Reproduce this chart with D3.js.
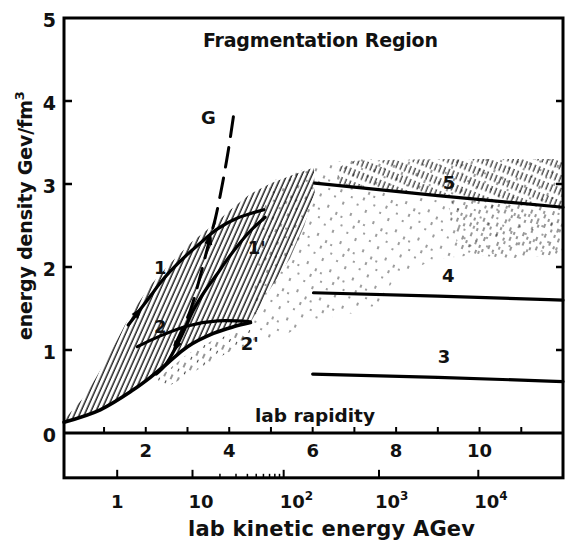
<!DOCTYPE html>
<html><head><meta charset="utf-8">
<script src="https://cdn.jsdelivr.net/npm/d3@7"></script>
<style>
body{margin:0;background:#fff}
svg{display:block}
text{font-family:"DejaVu Sans",sans-serif;font-weight:bold;fill:#111}
</style></head><body>
<svg id="c" width="567" height="542"></svg>
<script>
// ---------- data (lab rapidity, energy density GeV/fm^3) ----------
const rapidityTicks = [1,2,3,4,5,6,7,8,9,10,11];
const rapidityLabels = [2,4,6,8,10];
const energyTicks = [0,1,2,3,4,5];
const kineticMajor = [1,10,100,1000,10000];
const kineticBase = ["1","10","10","10","10"];
const kineticSup = ["","","2","3","4"];
const kineticMinor = [20,30,40,50,60,70,80,90];
const kineticRapidity = [1.315,3.12,5.305,7.59,9.97]; // rapidity position of each major tick

const curveLower = [[0.04,0.13],[0.91,0.28],[1.70,0.52],[2.11,0.67],[2.52,0.84],[3.00,1.04],[3.62,1.20],[4.10,1.28],[4.51,1.33]];
const curve2 = [[1.80,1.04],[2.35,1.17],[3.00,1.29],[3.72,1.35],[4.51,1.34]];
const curve1 = [[1.58,1.30],[1.87,1.49],[2.11,1.65],[2.35,1.81],[2.59,1.95],[2.95,2.13],[3.31,2.29],[3.72,2.46],[4.20,2.59],[4.83,2.69]];
const curve1p = [[2.25,0.71],[2.47,0.82],[2.73,1.04],[2.95,1.27],[3.14,1.48],[3.43,1.72],[3.69,1.90],[3.98,2.11],[4.46,2.41],[4.86,2.60]];
const curveG = [[4.10,3.81],[3.98,3.41],[3.84,3.01],[3.67,2.59],[3.53,2.33],[3.31,1.90],[3.07,1.48],[2.85,1.22],[2.70,1.06]];
const line5 = [[6.05,3.01],[9.0,2.86],[12,2.72]];
const line4 = [[6.02,1.69],[9.0,1.65],[12,1.60]];
const line3 = [[6.0,0.71],[9.0,0.67],[12,0.62]];

const regionDense = [[0.04,0.16],[0.55,0.45],[1.1,0.92],[1.5,1.3],[1.8,1.55],[2.15,1.8],[2.6,2.05],[3.1,2.3],[3.6,2.5],[4.03,2.69],[4.5,2.88],[5.0,3.01],[5.47,3.1],[6.03,3.2],[6.05,2.9],[5.8,2.5],[5.45,2.1],[5.0,1.75],[4.7,1.5],[4.51,1.33],[4.10,1.28],[3.62,1.20],[3.0,1.04],[2.52,0.84],[2.11,0.67],[1.70,0.52],[0.91,0.28],[0.04,0.13]];
const regionLight = [[4.45,1.1],[5.2,1.15],[6.0,1.35],[7.0,1.45],[7.6,1.55],[8.0,1.9],[9,2.1],[10,2.15],[12,2.2],[12,3.3],[10,3.3],[8,3.3],[7,3.3],[6.03,3.22],[5.47,3.12],[5.0,3.03],[4.83,2.69]];
const regionBand = [[6.6,3.0],[9,2.87],[12,2.72],[12,3.3],[9,3.3],[7.0,3.28],[6.6,3.2]];
const regionMid = [[9.2,2.85],[12,2.72],[12,2.15],[10.5,2.1],[9.5,2.2]];
const regionBelow = [[2.2,0.62],[3.0,0.95],[3.62,1.12],[4.1,1.2],[4.5,1.25],[4.6,1.1],[4.0,0.98],[3.2,0.75],[2.5,0.55]];

const arrows = [
  {at:[1.87,1.49], from:[1.58,1.30]},
  {at:[3.55,2.38], from:[3.31,1.90]},
  {at:[2.68,1.00], from:[2.95,1.27]}
];
const curveLabels = [
  {t:"1", p:[2.35,1.99]}, {t:"1'", p:[4.66,2.24]},
  {t:"2", p:[2.35,1.28]}, {t:"2'", p:[4.49,1.08]},
  {t:"G", p:[3.50,3.80]},
  {t:"5", p:[9.27,3.02]}, {t:"4", p:[9.25,1.90]}, {t:"3", p:[9.15,0.92]}
];

// ---------- scales ----------
const xMin = 0.04, xMax = 12, yBottom = -0.54;
const x = d3.scaleLinear().domain([xMin, xMax]).range([64, 563]);
const y = d3.scaleLinear().domain([0, 5]).range([433, 18]);
const kin = d3.scaleLog().domain(kineticMajor).range(kineticRapidity);

const svg = d3.select("#c");
const defs = svg.append("defs");

function hatch(id, w, h, segs, sw, op, rot){
  const p = defs.append("pattern").attr("id", id).attr("patternUnits","userSpaceOnUse")
    .attr("width", w).attr("height", h).attr("patternTransform", `rotate(${rot})`);
  segs.forEach(s => p.append("line").attr("x1", s[0]).attr("x2", s[0]).attr("y1", s[1]).attr("y2", s[2])
    .attr("stroke","#000").attr("stroke-width", sw).attr("stroke-opacity", op));
}
hatch("dense", 4.6, 10, [[2,0,10]], 1.35, 0.95, 24);
hatch("band", 4.6, 12, [[2,0,7.5]], 1.2, 0.85, 22);
hatch("mid", 14, 24, [[1,0,4],[5,9,13],[9,3,6],[12,15,19],[3,18,21],[7,21,24]], 1.1, 0.75, 20);
hatch("light", 24, 30, [[2,1,4],[8,12,15],[14,4,6],[19,20,23],[5,24,27],[22,9,11],[11,26,28]], 1.1, 0.7, 20);
hatch("below", 7, 16, [[2,0,5],[5.5,8,11]], 1.1, 0.75, 24);

const area = d => "M" + d.map(p => x(p[0]) + "," + y(p[1])).join("L") + "Z";
[[regionLight,"light"],[regionMid,"mid"],[regionBand,"band"],[regionBelow,"below"],[regionDense,"dense"]]
  .forEach(([r,id]) => svg.append("path").attr("d", area(r)).attr("fill", `url(#${id})`));

const smooth = d3.line().x(d => x(d[0])).y(d => y(d[1])).curve(d3.curveCatmullRom.alpha(0.5));
const straight = d3.line().x(d => x(d[0])).y(d => y(d[1])).curve(d3.curveMonotoneX);

function draw(data, gen, w, dash){
  svg.append("path").attr("d", gen(data)).attr("fill","none").attr("stroke","#000")
    .attr("stroke-width", w).attr("stroke-linecap","round").attr("stroke-dasharray", dash || null);
}
draw(curveLower, smooth, 3.6);
draw(curve2, smooth, 3.2);
draw(curve1, smooth, 3.2);
draw(curve1p, smooth, 3.2);
draw(curveG, smooth, 3, "20,11");
draw(line5, straight, 3.2);
draw(line4, straight, 3.2);
draw(line3, straight, 3.2);

arrows.forEach(a => {
  const ax = x(a.at[0]), ay = y(a.at[1]);
  const ang = Math.atan2(ay - y(a.from[1]), ax - x(a.from[0])) * 180 / Math.PI;
  svg.append("path").attr("d","M3,0 L-9,-4 L-9,4 Z").attr("fill","#000")
    .attr("transform", `translate(${ax},${ay}) rotate(${ang})`);
});

curveLabels.forEach(l => svg.append("text").attr("x", x(l.p[0])).attr("y", y(l.p[1]))
  .attr("dy","0.36em").attr("text-anchor","middle").attr("font-size", 18).text(l.t));

// ---------- frame & axes ----------
const fr = svg.append("g").attr("stroke","#000").attr("fill","none");
fr.append("rect").attr("x", x(xMin)).attr("y", y(5)).attr("width", x(xMax) - x(xMin))
  .attr("height", y(yBottom) - y(5)).attr("stroke-width", 3);
fr.append("line").attr("x1", x(xMin)).attr("x2", x(xMax)).attr("y1", y(0)).attr("y2", y(0)).attr("stroke-width", 3);

energyTicks.filter(v => v > 0 && v < 5).forEach(v => {
  fr.append("line").attr("x1", x(xMin)).attr("x2", x(xMin) + 8).attr("y1", y(v)).attr("y2", y(v)).attr("stroke-width", 2.5);
  fr.append("line").attr("x1", x(xMax)).attr("x2", x(xMax) - 7).attr("y1", y(v)).attr("y2", y(v)).attr("stroke-width", 2.5);
});
energyTicks.forEach(v => svg.append("text").attr("x", x(xMin) - 8).attr("y", y(v) + 8.5)
  .attr("text-anchor","end").attr("font-size", 19).text(v));

rapidityTicks.forEach(v => fr.append("line").attr("x1", x(v)).attr("x2", x(v))
  .attr("y1", y(0)).attr("y2", y(0) - 6).attr("stroke-width", 2));
rapidityLabels.forEach(v => svg.append("text").attr("x", x(v)).attr("y", 457)
  .attr("text-anchor","middle").attr("font-size", 18).text(v));

const yb = y(yBottom);
kineticMajor.forEach(v => fr.append("line").attr("x1", x(kin(v))).attr("x2", x(kin(v)))
  .attr("y1", yb).attr("y2", yb - 8).attr("stroke-width", 2));
kineticMinor.forEach(v => fr.append("line").attr("x1", x(kin(v))).attr("x2", x(kin(v)))
  .attr("y1", yb).attr("y2", yb - 4).attr("stroke-width", 1.5));
kineticMajor.forEach((v, i) => {
  const single = kineticBase[i].length === 1;
  const t = svg.append("text").attr("x", x(kin(v)) - (single ? 0 : 4)).attr("y", 508)
    .attr("text-anchor", single ? "middle" : "start").attr("font-size", 18);
  t.append("tspan").text(kineticBase[i]);
  if (kineticSup[i]) t.append("tspan").attr("font-size", 12).attr("dy", -8).text(kineticSup[i]);
});

// ---------- titles ----------
svg.append("text").attr("x", 203).attr("y", 47).attr("font-size", 19)
  .attr("textLength", 235).attr("lengthAdjust","spacing").text("Fragmentation Region");
svg.append("text").attr("x", 255).attr("y", 422).attr("font-size", 18.5)
  .attr("textLength", 120).attr("lengthAdjust","spacing").text("lab rapidity");
svg.append("text").attr("x", 188).attr("y", 536).attr("font-size", 21)
  .attr("textLength", 287).attr("lengthAdjust","spacing").text("lab kinetic energy AGev");
const yl = svg.append("text").attr("transform","translate(32,340) rotate(-90)").attr("font-size", 19);
yl.append("tspan").attr("textLength", 240).attr("lengthAdjust","spacing").text("energy density Gev/fm");
yl.append("tspan").attr("font-size", 13).attr("dy", -8).text("3");
</script></body></html>
